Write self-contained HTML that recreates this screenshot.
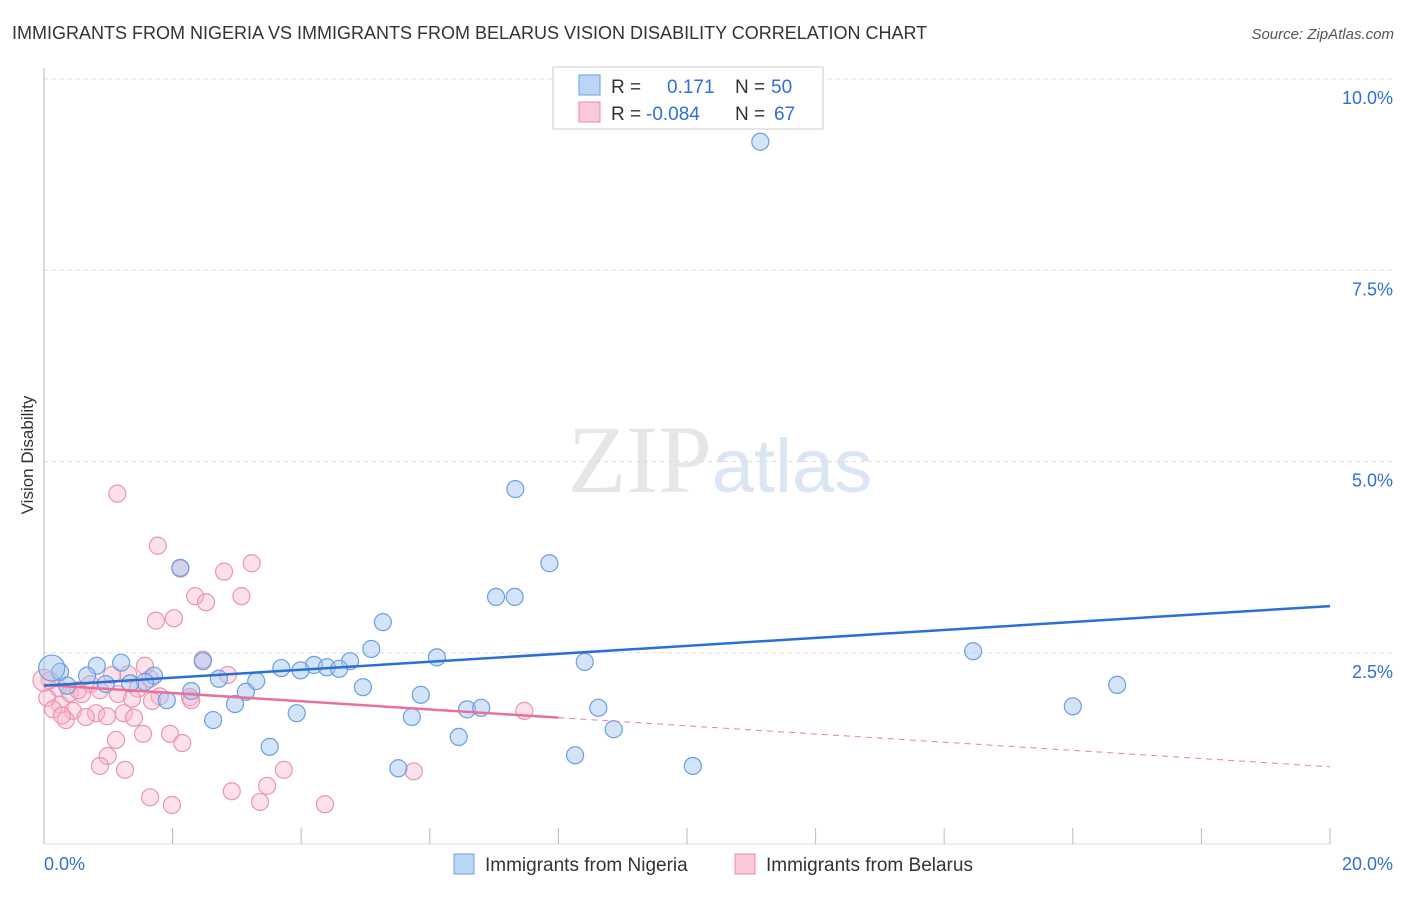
<!DOCTYPE html>
<html><head><meta charset="utf-8">
<style>
body{margin:0;background:#fff;font-family:"Liberation Sans",sans-serif;}
</style></head>
<body>
<svg width="1406" height="892" viewBox="0 0 1406 892" xmlns="http://www.w3.org/2000/svg" font-family="Liberation Sans, sans-serif">
<text x="12" y="39" font-size="18" fill="#333">IMMIGRANTS FROM NIGERIA VS IMMIGRANTS FROM BELARUS VISION DISABILITY CORRELATION CHART</text>
<text x="1394" y="39" font-size="15" fill="#555" text-anchor="end" font-style="italic">Source: ZipAtlas.com</text>
<text x="720" y="492" font-size="96" text-anchor="middle" fill="#e6e6e6" font-family="Liberation Serif, serif">ZIP<tspan fill="#dbe6f5" font-family="Liberation Sans, sans-serif" font-size="76">atlas</tspan></text>
<g id="grid"></g>
<g id="axes"></g>
<g id="marks"></g>
<text transform="translate(33,455) rotate(-90)" font-size="17" fill="#333" text-anchor="middle">Vision Disability</text>
<g>
<rect x="553" y="67" width="270" height="62" fill="#fff" stroke="#ccc"/>
<rect x="579" y="75" width="21" height="20" fill="#bcd4f5" stroke="#6a9fe0"/>
<rect x="579" y="102" width="21" height="20" fill="#fac8d8" stroke="#e88aa8"/>
<text x="611" y="93" font-size="19" fill="#333">R = <tspan x="667" fill="#2f6fd6">0.171</tspan><tspan x="735" fill="#333">N = </tspan><tspan x="771" fill="#2f6fd6">50</tspan></text>
<text x="611" y="120" font-size="19" fill="#333">R = <tspan x="646" fill="#2f6fd6">-0.084</tspan><tspan x="735" fill="#333">N = </tspan><tspan x="774" fill="#2f6fd6">67</tspan></text>
</g>
<g>
<rect x="454" y="854" width="20" height="20" fill="#bcd4f5" stroke="#6a9fe0"/>
<text x="485" y="871" font-size="19" fill="#333">Immigrants from Nigeria</text>
<rect x="735" y="854" width="20" height="20" fill="#fac8d8" stroke="#e88aa8"/>
<text x="766" y="871" font-size="19" fill="#333">Immigrants from Belarus</text>
</g>
</svg>
<script>
const xTicks=[0,2,4,6,8,10,12,14,16,18,20];
const yTicks=[2.5,5,7.5,10];
const yTickLabels=["2.5%","5.0%","7.5%","10.0%"];
const xEndLabels=["0.0%","20.0%"];
const nigeriaX=[7.33,7.86,2.12,7.03,7.32,5.27,5.09,6.11,8.41,14.45,2.47,4.76,0.82,1.20,3.69,4.20,4.40,4.59,3.99,0.25,0.12,0.67,1.71,2.72,3.30,16.69,0.96,1.57,1.34,4.96,2.29,3.14,5.86,1.91,2.97,16.0,6.58,6.80,8.62,3.93,5.72,2.63,8.86,6.45,3.51,8.26,10.09,5.51,11.14,0.36];
const nigeriaY=[4.64,3.67,3.61,3.23,3.23,2.90,2.55,2.44,2.38,2.52,2.39,2.39,2.33,2.37,2.30,2.34,2.31,2.29,2.27,2.25,2.30,2.20,2.20,2.16,2.13,2.08,2.09,2.12,2.10,2.05,2.00,1.99,1.95,1.88,1.83,1.80,1.76,1.78,1.78,1.71,1.66,1.62,1.50,1.40,1.27,1.16,1.02,0.99,9.18,2.07];
const belarusX=[1.14,1.77,3.23,2.80,2.12,3.07,2.35,2.52,2.02,1.74,2.47,1.57,2.86,1.31,1.65,1.06,0.09,0.72,0.22,1.46,0.87,0.40,1.15,0.59,1.80,2.27,0.05,1.37,0.25,1.68,2.29,0.45,0.81,1.24,0.14,0.34,0.65,0.98,1.40,7.47,1.12,1.96,1.54,2.15,0.99,0.87,1.26,3.73,5.75,3.47,2.92,1.65,3.36,1.99,4.37,0.28,0.53,0.0];
const belarusY=[4.58,3.90,3.67,3.56,3.60,3.24,3.24,3.16,2.95,2.92,2.41,2.33,2.21,2.22,2.16,2.21,2.14,2.09,2.04,2.03,2.01,1.97,1.96,1.96,1.93,1.92,1.91,1.90,1.82,1.87,1.88,1.74,1.71,1.71,1.76,1.62,1.66,1.67,1.65,1.74,1.36,1.44,1.44,1.32,1.15,1.02,0.97,0.97,0.95,0.76,0.69,0.61,0.55,0.51,0.52,1.68,2.01,2.14];
const nigeriaTrend=[2.07,3.11];   // at x=0 and x=20
const belarusTrend=[2.08,1.01];   // at x=0 and x=20
const belarusSolidEnd=8;

const NS="http://www.w3.org/2000/svg";
const X0=44,X1=1330,Y0=844,PX=76.5;
const sx=v=>X0+(v/20)*(X1-X0);
const sy=v=>Y0-v*PX;
function mk(tag,attrs,parent){const e=document.createElementNS(NS,tag);for(const k in attrs)e.setAttribute(k,attrs[k]);parent.appendChild(e);return e;}
const grid=document.getElementById('grid'),axes=document.getElementById('axes'),marks=document.getElementById('marks');
yTicks.forEach((t,i)=>{
  const l=mk('line',{x1:X0,x2:1394,y1:sy(t),y2:sy(t),stroke:'#ddd','stroke-dasharray':'4,4'},grid);
  
  
  const tx=mk('text',{x:1393,y:sy(t)+25,'font-size':18,fill:'#2f6fd6','text-anchor':'end'},axes);
  tx.textContent=yTickLabels[i];
  
  
});
const ax=mk('line',{x1:X0,x2:X0,y1:68,y2:Y0,stroke:'#bbb'},axes);


const bx=mk('line',{x1:X0,x2:X1,y1:Y0,y2:Y0,stroke:'#ddd'},axes);


xTicks.forEach(t=>{
  const l=mk('line',{x1:sx(t),x2:sx(t),y1:828,y2:Y0,stroke:'#bbb'},axes);
  
  
});
[[0,'start',44],[20,'end',1393]].forEach((d,i)=>{
  const tx=mk('text',{x:d[2],y:870,'font-size':18,fill:'#2f6fd6','text-anchor':d[1]},axes);
  tx.textContent=xEndLabels[i];
  
  
});
belarusX.forEach((x,i)=>{
  const c=mk('circle',{cx:sx(x),cy:sy(belarusY[i]),r:i===belarusX.length-1?11:8.5,fill:'rgba(248,180,202,0.4)',stroke:'#eb94b0','stroke-width':1.2},marks);
  
  
});
nigeriaX.forEach((x,i)=>{
  const c=mk('circle',{cx:sx(x),cy:sy(nigeriaY[i]),r:i===20?13:8.5,fill:'rgba(160,196,240,0.45)',stroke:'#6a9fe0','stroke-width':1.2},marks);
  
  
});
const bAt=x=>belarusTrend[0]+(belarusTrend[1]-belarusTrend[0])*x/20;
const pd=mk('line',{x1:sx(belarusSolidEnd),y1:sy(bAt(belarusSolidEnd)),x2:sx(20),y2:sy(belarusTrend[1]),stroke:'#eb7fa3','stroke-width':1,'stroke-dasharray':'6,5'},marks);


const ps=mk('line',{x1:sx(0),y1:sy(belarusTrend[0]),x2:sx(belarusSolidEnd),y2:sy(bAt(belarusSolidEnd)),stroke:'#e8709a','stroke-width':2.5},marks);


const nt=mk('line',{x1:sx(0),y1:sy(nigeriaTrend[0]),x2:sx(20),y2:sy(nigeriaTrend[1]),stroke:'#2a6fd4','stroke-width':2.5},marks);


</script>
</body></html>
